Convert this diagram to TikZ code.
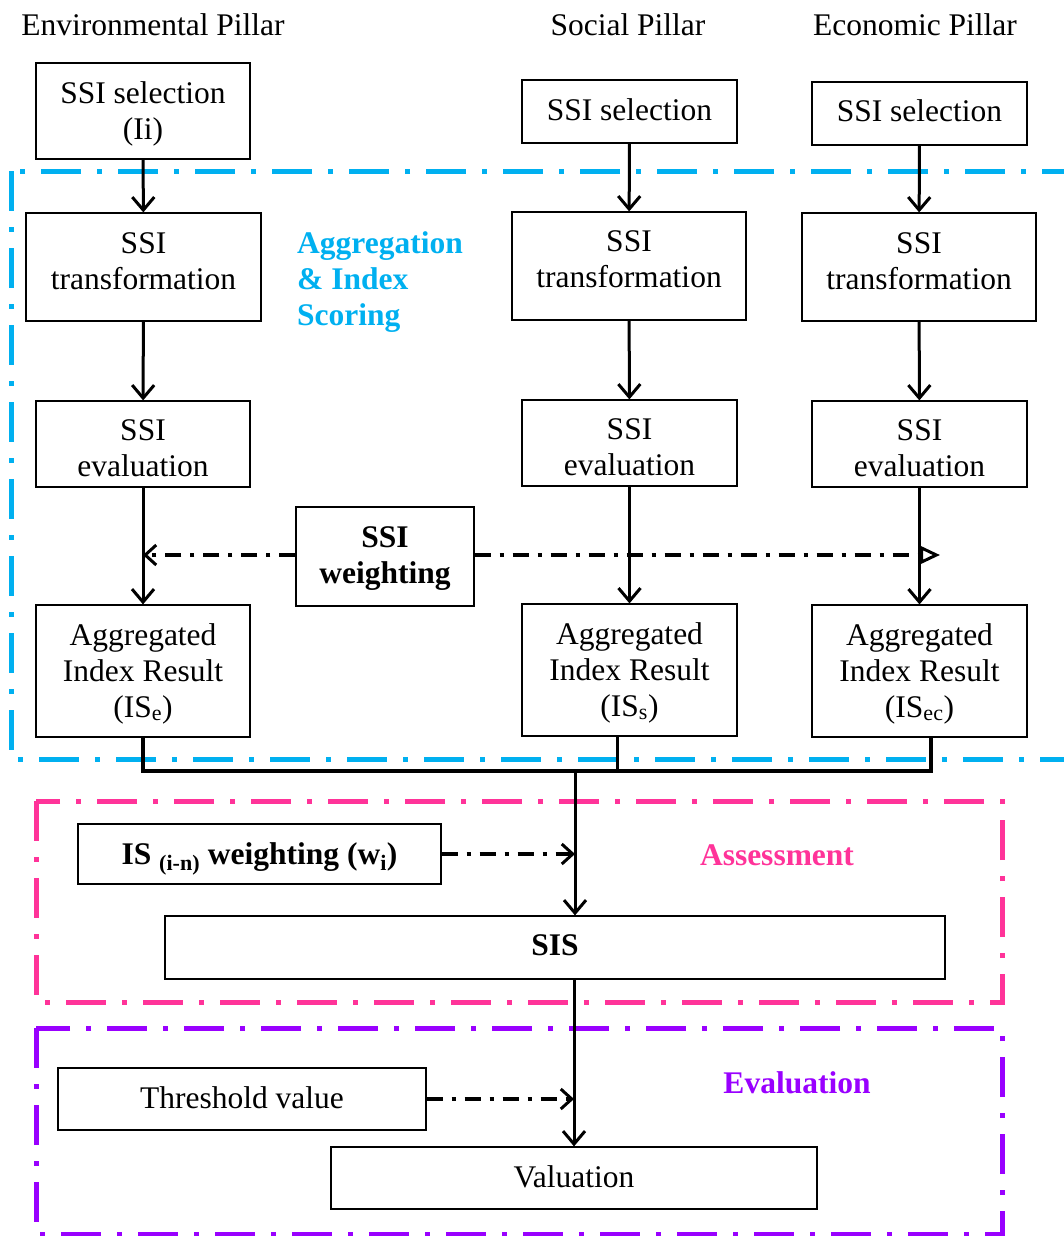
\documentclass[tikz,border=0pt]{standalone}
\usepackage{fontspec}
\setmainfont{Liberation Serif}
\usetikzlibrary{arrows.meta}
\definecolor{aggblue}{HTML}{00B0F0}
\definecolor{asspink}{HTML}{FF3399}
\definecolor{evalpurple}{HTML}{9900FF}
% stacked lines; the baseline of the block is that of its first line
\newcommand\stack[2][c]{\begin{tabular}[t]{@{}#1@{}}#2\end{tabular}}
\begin{document}
\begin{tikzpicture}[x=1pt,y=-1pt,
  txt/.style={font=\fontsize{31.5}{36}\selectfont, inner sep=0pt},
  bold/.style={font=\fontsize{31.5}{36}\selectfont\bfseries},
  box/.style={txt, draw, line width=1.2pt},
  % place the first baseline above / below the box centre (value = twice the offset)
  up/.style={text height=0pt, text depth=#1},
  down/.style={text height=#1, text depth=0pt},
  flow/.style={line width=3pt, -{Straight Barb[length=13pt,width=22pt]}},
  dashdot/.style={line width=3.5pt, dash pattern=on 16pt off 9pt on 4pt off 9pt},
  ddbarb/.style={dashdot, -{Straight Barb[length=11pt,width=20pt,line width=3pt]}},
  ddtri/.style={dashdot, -{Triangle[open,length=20pt,width=18pt,line width=3pt]}},
  frame/.style={line width=5pt, dash pattern=on 40pt off 16pt on 5pt off 16pt},
  bus/.style={line width=3.5pt},
]
\useasboundingbox (0,0) rectangle (1063,1236);

% group frames
\draw[frame, aggblue] (11,171) rectangle (1075,759);
\draw[frame, asspink] (36,801) rectangle (1002,1002);
\draw[frame, evalpurple] (36,1028) rectangle (1002,1234);

% pillar headings
\node[txt, anchor=base] (hEnv) at (153,36) {Environmental Pillar};
\node[txt, anchor=base] (hSoc) at (628,36) {Social Pillar};
\node[txt, anchor=base] (hEco) at (915,36) {Economic Pillar};

% environmental column
\node[box, up=16pt, minimum width=214pt, minimum height=96pt] (envSel) at (143,111) {\stack{SSI selection\\(Ii)}};
\node[box, up=28pt, minimum width=235pt, minimum height=108pt] (envTr) at (143.5,267) {\stack{SSI\\transformation}};
\node[box, up=8pt, minimum width=214pt, minimum height=86pt] (envEv) at (143,444) {\stack{SSI\\evaluation}};
\node[box, up=52pt, minimum width=214pt, minimum height=132pt] (envAg) at (143,671) {\stack{Aggregated\\Index Result\\(IS\textsubscript{e})}};

% social column
\node[box, down=18pt, minimum width=215pt, minimum height=63pt] (socSel) at (629.5,111.5) {SSI selection};
\node[box, up=30pt, minimum width=234pt, minimum height=108pt] (socTr) at (629,266) {\stack{SSI\\transformation}};
\node[box, up=8pt, minimum width=215pt, minimum height=86pt] (socEv) at (629.5,443) {\stack{SSI\\evaluation}};
\node[box, up=52pt, minimum width=215pt, minimum height=132pt] (socAg) at (629.5,670) {\stack{Aggregated\\Index Result\\(IS\textsubscript{s})}};

% economic column
\node[box, down=16pt, minimum width=215pt, minimum height=63pt] (ecoSel) at (919.5,113.5) {SSI selection};
\node[box, up=28pt, minimum width=234pt, minimum height=108pt] (ecoTr) at (919,267) {\stack{SSI\\transformation}};
\node[box, up=8pt, minimum width=215pt, minimum height=86pt] (ecoEv) at (919.5,444) {\stack{SSI\\evaluation}};
\node[box, up=52pt, minimum width=215pt, minimum height=132pt] (ecoAg) at (919.5,671) {\stack{Aggregated\\Index Result\\(IS\textsubscript{ec})}};

% weighting, scoring and valuation boxes
\node[box, bold, up=19pt, minimum width=178pt, minimum height=99pt] (ssiW) at (385,556.5) {\stack{SSI\\weighting}};
\node[box, bold, down=20pt, minimum width=363pt, minimum height=60pt] (isW) at (259.5,854) {IS \textsubscript{(i-n)} weighting (w\textsubscript{i})};
\node[box, bold, down=15pt, minimum width=780pt, minimum height=63pt] (sis) at (555,947.5) {SIS};
\node[box, down=18pt, minimum width=368pt, minimum height=62pt] (thr) at (242,1099) {Threshold value};
\node[box, down=18pt, minimum width=486pt, minimum height=62pt] (val) at (574,1178) {Valuation};

% group labels
\node[txt, bold, anchor=base west, text=aggblue] (lAgg) at (297,253) {\stack[l]{Aggregation\\\& Index\\Scoring}};
\node[txt, bold, anchor=base, text=asspink] (lAss) at (777,865) {Assessment};
\node[txt, bold, anchor=base, text=evalpurple] (lEval) at (797,1093) {Evaluation};

% column flows
\foreach \c in {env,soc,eco}{
  \draw[flow] (\c Sel) -- (\c Tr);
  \draw[flow] (\c Tr) -- (\c Ev);
  \draw[flow] (\c Ev) -- (\c Ag);
}

% collecting the pillar results
\coordinate (jn) at (575,771);
\coordinate (jl) at (143,771);
\coordinate (jr) at (931,771);
\draw[bus] (envAg.south) -- (jl) -- (jr) -- (jr |- ecoAg.south);
\draw[bus] ([xshift=-12pt]socAg.south) -- ([xshift=-12pt]socAg.south |- jn);
\draw[flow] (jn) -- (jn |- sis.north);
\draw[flow] (sis.south -| val.north) -- (val.north);

% weighting inputs
\coordinate (wEnd) at (940,555);
\draw[ddbarb] (ssiW.west |- wEnd) -- (envEv.south |- wEnd);
\draw[ddtri] (ssiW.east |- wEnd) -- (wEnd);
\draw[ddbarb] (isW.east) -- (isW.east -| jn);
\draw[ddbarb] (thr.east) -- (thr.east -| val.north);
\end{tikzpicture}
\end{document}
